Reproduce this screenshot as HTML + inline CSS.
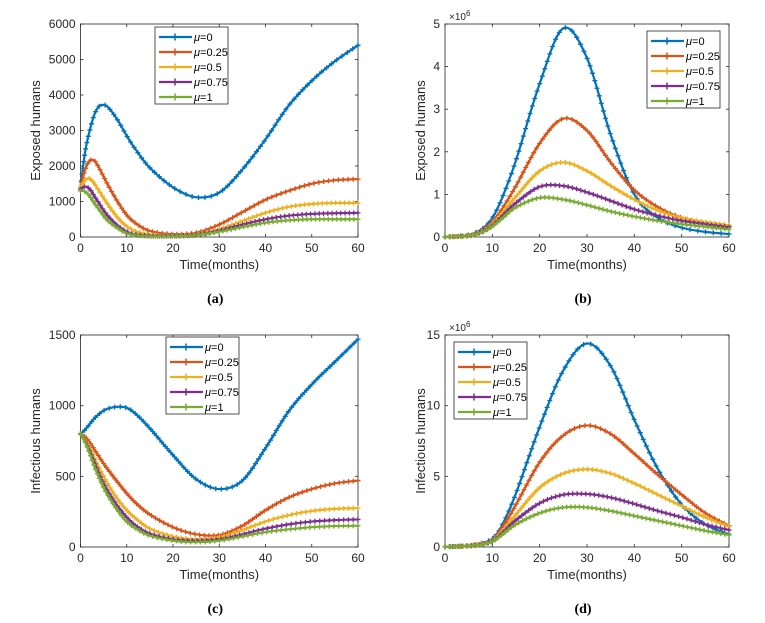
<!DOCTYPE html>
<html><head><meta charset="utf-8"><style>
body{margin:0;background:#fff;width:765px;height:623px;overflow:hidden;font-family:"Liberation Sans",sans-serif}
svg{position:absolute;left:0;top:0}
</style></head><body>
<svg id="c" width="765" height="623" xmlns="http://www.w3.org/2000/svg"></svg>
<script>
const times=[0,1,2,3,4,5,6,8,10,12,15,20,25,30,35,40,45,50,55,60];
const seriesNames=["μ=0","μ=0.25","μ=0.5","μ=0.75","μ=1"];
const colors=["#0072BD","#D95319","#EDB120","#7E2F8E","#77AC30"];
const aBlue=[1.4,2.4,3.0,3.45,3.68,3.72,3.65,3.3,2.85,2.45,1.95,1.4,1.12,1.25,1.9,2.75,3.7,4.4,4.95,5.4];
const aOrange=[1.4,1.9,2.15,2.15,1.95,1.7,1.45,1.0,0.62,0.38,0.17,0.08,0.12,0.35,0.7,1.05,1.3,1.5,1.6,1.63];
const aYellow=[1.4,1.6,1.65,1.5,1.3,1.1,0.9,0.55,0.3,0.16,0.07,0.04,0.08,0.22,0.45,0.68,0.85,0.93,0.96,0.96];
const aPurple=[1.35,1.42,1.35,1.15,0.95,0.75,0.58,0.32,0.15,0.07,0.03,0.03,0.06,0.18,0.35,0.5,0.6,0.65,0.67,0.68];
const aGreen=[1.3,1.28,1.15,0.95,0.78,0.6,0.45,0.25,0.1,0.05,0.02,0.02,0.05,0.15,0.28,0.4,0.47,0.5,0.5,0.5];
const bBlue=[0,0.005,0.01,0.02,0.03,0.05,0.08,0.2,0.45,0.9,1.8,3.6,4.9,4.2,2.4,1.0,0.45,0.22,0.12,0.07];
const bOrange=[0,0.005,0.01,0.02,0.03,0.04,0.06,0.17,0.35,0.65,1.2,2.2,2.78,2.5,1.75,1.1,0.7,0.45,0.32,0.25];
const bYellow=[0,0.005,0.01,0.015,0.02,0.03,0.05,0.14,0.3,0.55,0.95,1.55,1.75,1.55,1.2,0.88,0.62,0.45,0.35,0.28];
const bPurple=[0,0.005,0.01,0.015,0.02,0.03,0.05,0.13,0.27,0.48,0.8,1.18,1.2,1.05,0.85,0.65,0.5,0.38,0.3,0.23];
const bGreen=[0,0.005,0.01,0.015,0.02,0.03,0.05,0.12,0.25,0.43,0.7,0.92,0.88,0.75,0.6,0.48,0.38,0.3,0.24,0.18];
const cBlue=[800,830,870,910,940,965,980,992,985,940,840,650,480,410,470,700,960,1150,1310,1470];
const cOrange=[800,780,740,690,640,590,545,460,380,310,230,140,90,85,150,260,350,410,450,470];
const cYellow=[800,760,700,630,560,500,440,340,260,200,130,75,55,70,120,180,225,255,270,275];
const cPurple=[800,750,680,600,520,450,390,290,210,150,95,55,45,55,90,130,160,180,190,195];
const cGreen=[800,740,660,570,490,420,360,260,180,130,80,45,35,45,75,105,125,140,148,150];
const dBlue=[0.02,0.03,0.04,0.05,0.07,0.1,0.15,0.3,0.6,1.5,3.8,8.5,12.5,14.4,12.8,9.0,5.5,3.0,1.6,0.9];
const dOrange=[0.02,0.03,0.04,0.05,0.07,0.09,0.13,0.25,0.5,1.3,3.0,6.0,7.9,8.6,8.0,6.6,5.1,3.7,2.4,1.5];
const dYellow=[0.02,0.03,0.04,0.05,0.06,0.08,0.12,0.23,0.45,1.1,2.3,4.2,5.2,5.5,5.2,4.5,3.7,2.9,2.1,1.45];
const dPurple=[0.02,0.03,0.04,0.05,0.06,0.08,0.11,0.21,0.4,0.95,1.9,3.1,3.7,3.75,3.5,3.05,2.55,2.1,1.6,1.2];
const dGreen=[0.02,0.03,0.04,0.05,0.06,0.08,0.1,0.2,0.38,0.85,1.6,2.4,2.8,2.8,2.55,2.2,1.85,1.5,1.15,0.85];
const xTicks=[0,10,20,30,40,50,60];
const aTicks=[0,1000,2000,3000,4000,5000,6000];
const bTicks=[0,1,2,3,4,5];
const cTicks=[0,500,1000,1500];
const dTicks=[0,5,10,15];
const NS="http://www.w3.org/2000/svg";
const svg=document.getElementById('c');
function mk(tag,attrs,parent){const e=document.createElementNS(NS,tag);for(const k in attrs)e.setAttribute(k,attrs[k]);(parent||svg).appendChild(e);return e;}
function panel(p){
 const g=mk('g',{});
 
 
 const sx=v=>p.x0+(v/60)*(p.x1-p.x0);
 const sy=v=>p.y0-(v/p.ymax)*(p.y0-p.y1);
 const box=mk('rect',{x:p.x0,y:p.y1,width:p.x1-p.x0,height:p.y0-p.y1,fill:'#fff',stroke:'#262626','stroke-width':0.8},g);
 
 xTicks.forEach(t=>{const x=sx(t);
  mk('line',{x1:x,x2:x,y1:p.y0,y2:p.y0-3,stroke:'#262626','stroke-width':0.8},g);
  mk('line',{x1:x,x2:x,y1:p.y1,y2:p.y1+3,stroke:'#262626','stroke-width':0.8},g);
  const tx=mk('text',{x:x,y:p.y0+15,'font-size':12,'text-anchor':'middle',fill:'#262626'},g);tx.textContent=t;
  });
 p.ticks.forEach(t=>{const y=sy(t);
  mk('line',{x1:p.x0,x2:p.x0+3,y1:y,y2:y,stroke:'#262626','stroke-width':0.8},g);
  mk('line',{x1:p.x1,x2:p.x1-3,y1:y,y2:y,stroke:'#262626','stroke-width':0.8},g);
  const tx=mk('text',{x:p.x0-5,y:y+4,'font-size':12,'text-anchor':'end',fill:'#262626'},g);tx.textContent=t;
  });
 if(p.exp){const e=mk('text',{x:p.x0+4,y:p.y1-4,'font-size':10,fill:'#262626'},g);e.innerHTML='×10<tspan dy="-4" font-size="8">6</tspan>';
  }
 const xl=mk('text',{x:(p.x0+p.x1)/2,y:p.y0+32,'font-size':13,'text-anchor':'middle',fill:'#262626'},g);xl.textContent='Time(months)';
 
 const yl=mk('text',{x:0,y:0,'font-size':13,'text-anchor':'middle',fill:'#262626',transform:`translate(${p.ylx},${(p.y0+p.y1)/2}) rotate(-90)`},g);yl.textContent=p.ylabel;
 
 const cap=mk('text',{x:(p.x0+p.x1)/2-4,y:p.capy,'font-size':14,'font-weight':'bold','text-anchor':'middle','font-family':'Liberation Serif, serif',fill:'#000'},g);cap.textContent=p.cap;
 
 p.data.forEach((vals,si)=>{
  const pts=times.map((t,i)=>[sx(t),sy(vals[i])]);
  let d='M'+pts[0][0]+','+pts[0][1];
  for(let i=0;i<pts.length-1;i++){const p0=pts[Math.max(0,i-1)],p1=pts[i],p2=pts[i+1],p3=pts[Math.min(pts.length-1,i+2)];
   d+=` C${p1[0]+(p2[0]-p0[0])/6},${p1[1]+(p2[1]-p0[1])/6} ${p2[0]-(p3[0]-p1[0])/6},${p2[1]-(p3[1]-p1[1])/6} ${p2[0]},${p2[1]}`;}
  const path=mk('path',{d:d,fill:'none',stroke:colors[si],'stroke-width':2.2},g);
  
  const L=path.getTotalLength();const n=70;let md='';
  for(let k=0;k<=n;k++){const q=path.getPointAtLength(L*k/n);md+=`M${q.x-2.5},${q.y}h5M${q.x},${q.y-2.5}v5`;}
  const m=mk('path',{d:md,stroke:colors[si],'stroke-width':1.3,fill:'none'},g);
  
 });
 const lg=mk('g',{},g);
 mk('rect',{x:p.lx,y:p.ly,width:73,height:77,fill:'#fff',stroke:'#262626','stroke-width':0.8},lg);
 seriesNames.forEach((nm,i)=>{const y=p.ly+10+i*15;
  const en=mk('g',{},lg);
  mk('line',{x1:p.lx+4,x2:p.lx+37,y1:y,y2:y,stroke:colors[i],'stroke-width':2.2},en);
  mk('path',{d:`M${p.lx+16.5},${y}h7M${p.lx+20},${y-3.5}v7`,stroke:colors[i],'stroke-width':1.5},en);
  const t=mk('text',{x:p.lx+39,y:y+4,'font-size':11,fill:'#000'},en);
  t.innerHTML='<tspan font-style="italic">μ</tspan>'+nm.slice(1);});
}
panel({id:'exposed-humans-a',x0:80.5,x1:358,y0:237,y1:24,ymax:6000,ticks:aTicks,ylabel:'Exposed humans',ylx:40,cap:'(a)',capy:303,lx:155,ly:27,
 data:[aBlue,aOrange,aYellow,aPurple,aGreen].map(a=>a.map(v=>v*1000))});
panel({id:'exposed-humans-b',x0:445,x1:729,y0:237,y1:24,ymax:5,ticks:bTicks,ylabel:'Exposed humans',ylx:425,cap:'(b)',capy:303,lx:647,ly:31,exp:true,
 data:[bBlue,bOrange,bYellow,bPurple,bGreen]});
panel({id:'infectious-humans-c',x0:80.5,x1:358,y0:547,y1:335,ymax:1500,ticks:cTicks,ylabel:'Infectious humans',ylx:40,cap:'(c)',capy:613,lx:166,ly:337,
 data:[cBlue,cOrange,cYellow,cPurple,cGreen]});
panel({id:'infectious-humans-d',x0:445,x1:729,y0:547,y1:335,ymax:15,ticks:dTicks,ylabel:'Infectious humans',ylx:425,cap:'(d)',capy:613,lx:454,ly:342,exp:true,
 data:[dBlue,dOrange,dYellow,dPurple,dGreen]});
</script>
</body></html>
